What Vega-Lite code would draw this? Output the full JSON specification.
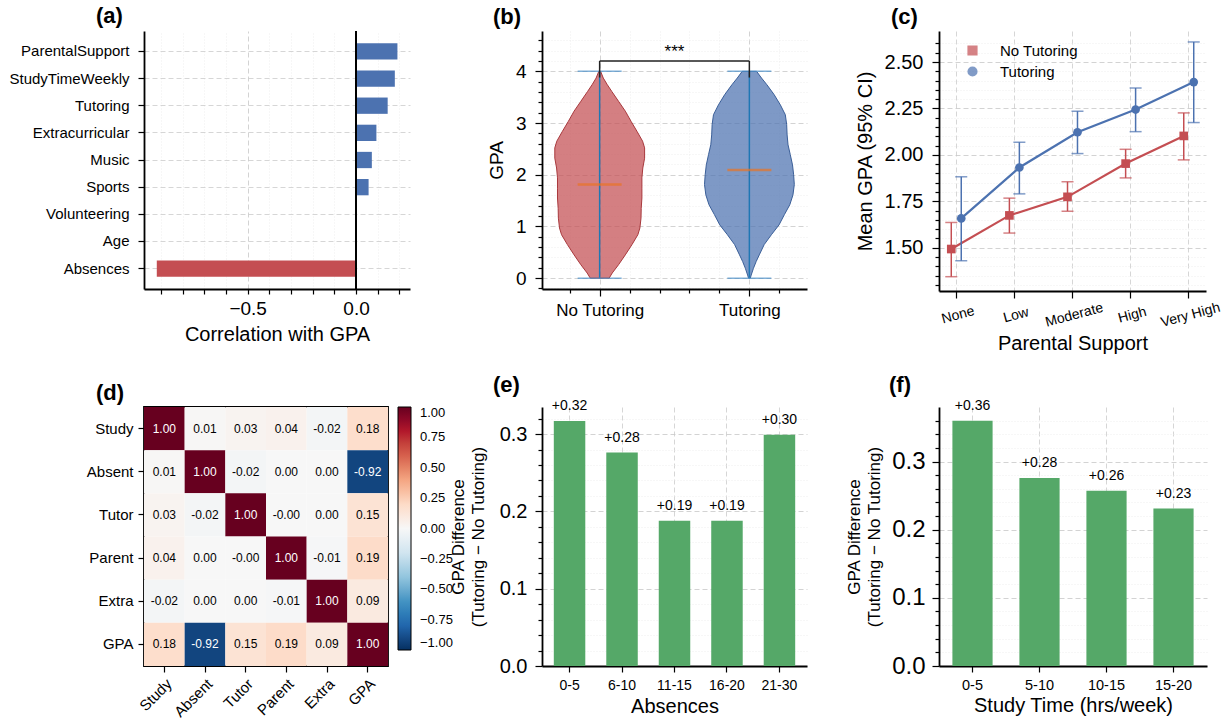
{
  "$schema": "https://vega.github.io/schema/vega-lite/v6.json",
  "background": "white",
  "padding": {"left": 8, "top": 5, "right": 5, "bottom": 5},
  "bounds": "flush",
  "columns": 3,
  "align": "each",
  "spacing": {"row": 116, "column": 132},
  "resolve": {"scale": {"color": "independent", "shape": "independent"}, "legend": {"color": "independent", "shape": "independent"}},
  "concat": [
    {
      "width": 266, "height": 258,
      "title": {"text": "(a)", "dx": -48, "offset": 2},
      "data": {"values": [
        {"feature": "ParentalSupport", "corr": 0.191},
        {"feature": "StudyTimeWeekly", "corr": 0.179},
        {"feature": "Tutoring", "corr": 0.146},
        {"feature": "Extracurricular", "corr": 0.094},
        {"feature": "Music", "corr": 0.073},
        {"feature": "Sports", "corr": 0.058},
        {"feature": "Volunteering", "corr": 0.003},
        {"feature": "Age", "corr": -0.001},
        {"feature": "Absences", "corr": -0.919}
      ]},
      "layer": [
        {
          "mark": {"type": "bar"},
          "encoding": {
            "y": {"field": "feature", "type": "nominal", "sort": null,
              "scale": {"paddingInner": 0.4, "paddingOuter": 0.45},
              "axis": {"title": null, "labelFontSize": 15, "tickSize": 6, "labelPadding": 9, "grid": true, "gridDash": [5, 3], "gridColor": "#cccccc"}},
            "x": {"field": "corr", "type": "quantitative",
              "scale": {"domain": [-0.978, 0.249], "nice": false},
              "axis": {"title": "Correlation with GPA", "titleFontSize": 20, "labelFontSize": 19, "format": ".1f", "labelOverlap": false, "tickCount": 100,
                "values": [-0.9, -0.8, -0.7, -0.6, -0.5, -0.4, -0.3, -0.2, -0.1, 0, 0.1, 0.2],
                "labelExpr": "abs(datum.value*2 - round(datum.value*2)) < 0.001 ? datum.label : ''",
                "labelPadding": 5, "titlePadding": 6, "grid": true,
                "tickSize": 5,
                "gridDash": {"condition": {"test": "abs(datum.value*2 - round(datum.value*2)) < 0.001", "value": [5, 3]}, "value": [1, 2]},
                "gridColor": {"condition": {"test": "abs(datum.value*2 - round(datum.value*2)) < 0.001", "value": "#c8c8c8"}, "value": "#ebebeb"}}},
            "color": {"condition": {"test": "datum.corr < 0", "value": "#c44e52"}, "value": "#4c72b0"}
          }
        },
        {"mark": {"type": "rule", "color": "black", "strokeWidth": 1.2}, "encoding": {"x": {"datum": 0}}}
      ]
    },
    {
      "width": 265, "height": 258,
      "title": {"text": "(b)", "dx": -49, "offset": 2},
      "data": {"values": [
        {"group": "No Tutoring", "gpa": 0.0, "density": 0.21},
        {"group": "No Tutoring", "gpa": 0.1, "density": 0.28},
        {"group": "No Tutoring", "gpa": 0.26, "density": 0.42},
        {"group": "No Tutoring", "gpa": 0.45, "density": 0.57},
        {"group": "No Tutoring", "gpa": 0.65, "density": 0.72},
        {"group": "No Tutoring", "gpa": 0.84, "density": 0.85},
        {"group": "No Tutoring", "gpa": 0.97, "density": 0.895},
        {"group": "No Tutoring", "gpa": 1.16, "density": 0.92},
        {"group": "No Tutoring", "gpa": 1.35, "density": 0.925},
        {"group": "No Tutoring", "gpa": 1.55, "density": 0.94},
        {"group": "No Tutoring", "gpa": 1.74, "density": 0.94},
        {"group": "No Tutoring", "gpa": 1.94, "density": 0.94},
        {"group": "No Tutoring", "gpa": 2.13, "density": 0.96},
        {"group": "No Tutoring", "gpa": 2.32, "density": 1.0},
        {"group": "No Tutoring", "gpa": 2.52, "density": 1.0},
        {"group": "No Tutoring", "gpa": 2.65, "density": 0.955},
        {"group": "No Tutoring", "gpa": 2.84, "density": 0.83},
        {"group": "No Tutoring", "gpa": 3.03, "density": 0.7},
        {"group": "No Tutoring", "gpa": 3.23, "density": 0.57},
        {"group": "No Tutoring", "gpa": 3.42, "density": 0.42},
        {"group": "No Tutoring", "gpa": 3.61, "density": 0.27},
        {"group": "No Tutoring", "gpa": 3.74, "density": 0.17},
        {"group": "No Tutoring", "gpa": 3.87, "density": 0.08},
        {"group": "No Tutoring", "gpa": 4.0, "density": 0.02},
        {"group": "Tutoring", "gpa": 0.0, "density": 0.02},
        {"group": "Tutoring", "gpa": 0.06, "density": 0.04},
        {"group": "Tutoring", "gpa": 0.19, "density": 0.09},
        {"group": "Tutoring", "gpa": 0.32, "density": 0.15},
        {"group": "Tutoring", "gpa": 0.45, "density": 0.22},
        {"group": "Tutoring", "gpa": 0.65, "density": 0.33},
        {"group": "Tutoring", "gpa": 0.84, "density": 0.49},
        {"group": "Tutoring", "gpa": 1.03, "density": 0.66},
        {"group": "Tutoring", "gpa": 1.23, "density": 0.78},
        {"group": "Tutoring", "gpa": 1.42, "density": 0.9},
        {"group": "Tutoring", "gpa": 1.61, "density": 0.97},
        {"group": "Tutoring", "gpa": 1.81, "density": 1.0},
        {"group": "Tutoring", "gpa": 2.0, "density": 0.985},
        {"group": "Tutoring", "gpa": 2.19, "density": 0.96},
        {"group": "Tutoring", "gpa": 2.39, "density": 0.91},
        {"group": "Tutoring", "gpa": 2.58, "density": 0.86},
        {"group": "Tutoring", "gpa": 2.77, "density": 0.84},
        {"group": "Tutoring", "gpa": 2.97, "density": 0.83},
        {"group": "Tutoring", "gpa": 3.16, "density": 0.8},
        {"group": "Tutoring", "gpa": 3.35, "density": 0.69},
        {"group": "Tutoring", "gpa": 3.55, "density": 0.55},
        {"group": "Tutoring", "gpa": 3.74, "density": 0.39},
        {"group": "Tutoring", "gpa": 3.87, "density": 0.27},
        {"group": "Tutoring", "gpa": 4.0, "density": 0.16}
      ]},
      "resolve": {"scale": {"x": "independent"}, "axis": {"x": "independent"}},
      "layer": [
        {
          "transform": [{"filter": "datum.group == 'No Tutoring'"}],
          "mark": {"type": "area", "orient": "horizontal", "fill": "#c44e52", "fillOpacity": 0.72, "stroke": "#a8393d", "strokeWidth": 1},
          "encoding": {
            "y": {"field": "gpa", "type": "quantitative", "title": "GPA", "scale": {"domain": [-0.21, 4.78], "nice": false, "zero": false}},
            "x": {"field": "density", "type": "quantitative", "stack": "center", "scale": {"domain": [-0.1425, 2.8085], "nice": false, "zero": false}, "axis": null}
          }
        },
        {
          "transform": [{"filter": "datum.group == 'Tutoring'"}],
          "mark": {"type": "area", "orient": "horizontal", "fill": "#4c72b0", "fillOpacity": 0.72, "stroke": "#3b5f98", "strokeWidth": 1},
          "encoding": {
            "y": {"field": "gpa", "type": "quantitative", "title": "GPA", "scale": {"domain": [-0.21, 4.78], "nice": false, "zero": false}},
            "x": {"field": "density", "type": "quantitative", "stack": "center", "scale": {"domain": [-1.8096, 1.1414], "nice": false, "zero": false}, "axis": null}
          }
        },
        {
          "data": {"values": [
            {"group": "No Tutoring", "pos": 1, "min": 0, "max": 4, "median": 1.81},
            {"group": "Tutoring", "pos": 2, "min": 0, "max": 4, "median": 2.09}
          ]},
          "layer": [
            {
              "mark": {"type": "rule", "color": "#1f77b4", "strokeWidth": 1.5},
              "encoding": {
                "x": {"field": "pos", "type": "quantitative", "scale": {"domain": [0.615, 2.385], "nice": false, "zero": false},
                  "axis": {"title": null, "labelFontSize": 17, "values": [0.8, 1, 1.2, 1.4, 1.6, 1.8, 2, 2.2], "labelOverlap": false, "labelFlush": false, "tickCount": 100,
                    "labelExpr": "datum.value == 1 ? 'No Tutoring' : (datum.value == 2 ? 'Tutoring' : '')",
                    "labelPadding": 6, "grid": true,
                    "tickSize": {"condition": {"test": "abs(datum.value - round(datum.value)) < 0.001", "value": 7}, "value": 4},
                    "gridDash": {"condition": {"test": "abs(datum.value - round(datum.value)) < 0.001", "value": [5, 3]}, "value": [1, 2]},
                    "gridColor": {"condition": {"test": "abs(datum.value - round(datum.value)) < 0.001", "value": "#c8c8c8"}, "value": "#ebebeb"}}},
                "y": {"field": "min", "type": "quantitative", "title": "GPA", "scale": {"domain": [-0.21, 4.78], "nice": false, "zero": false},
                  "axis": {"titleFontSize": 19, "labelFontSize": 19, "titlePadding": 9, "labelPadding": 9, "labelOverlap": false, "tickCount": 100,
                    "values": [-0.2, 0, 0.2, 0.4, 0.6, 0.8, 1, 1.2, 1.4, 1.6, 1.8, 2, 2.2, 2.4, 2.6, 2.8, 3, 3.2, 3.4, 3.6, 3.8, 4, 4.2, 4.4, 4.6],
                    "labelExpr": "abs(datum.value - round(datum.value)) < 0.001 ? format(datum.value, '.0f') : ''",
                    "grid": true,
                    "tickSize": {"condition": {"test": "abs(datum.value - round(datum.value)) < 0.001", "value": 7}, "value": 4},
                    "gridDash": {"condition": {"test": "abs(datum.value - round(datum.value)) < 0.001", "value": [5, 3]}, "value": [1, 2]},
                    "gridColor": {"condition": {"test": "abs(datum.value - round(datum.value)) < 0.001", "value": "#c8c8c8"}, "value": "#ebebeb"}}},
                "y2": {"field": "max"}
              }
            },
            {
              "mark": {"type": "tick", "orient": "horizontal", "size": 44, "thickness": 1.5, "color": "#4a8fc7"},
              "encoding": {
                "x": {"field": "pos", "type": "quantitative"},
                "y": {"field": "min", "type": "quantitative", "title": "GPA"}
              }
            },
            {
              "mark": {"type": "tick", "orient": "horizontal", "size": 44, "thickness": 1.5, "color": "#4a8fc7"},
              "encoding": {
                "x": {"field": "pos", "type": "quantitative"},
                "y": {"field": "max", "type": "quantitative", "title": "GPA"}
              }
            },
            {
              "mark": {"type": "tick", "orient": "horizontal", "size": 44, "thickness": 2.5, "color": "#ea7424"},
              "encoding": {
                "x": {"field": "pos", "type": "quantitative"},
                "y": {"field": "median", "type": "quantitative", "title": "GPA"}
              }
            },
            {
              "data": {"values": [{"label": "***"}]},
              "layer": [
                {"mark": {"type": "rule", "color": "#222222", "strokeWidth": 1.5},
                 "encoding": {"x": {"datum": 1}, "x2": {"datum": 2}, "y": {"datum": 4.2}}},
                {"mark": {"type": "rule", "color": "#222222", "strokeWidth": 1.5},
                 "encoding": {"x": {"datum": 1}, "y": {"datum": 3.88}, "y2": {"datum": 4.2}}},
                {"mark": {"type": "rule", "color": "#222222", "strokeWidth": 1.5},
                 "encoding": {"x": {"datum": 2}, "y": {"datum": 3.88}, "y2": {"datum": 4.2}}},
                {"mark": {"type": "text", "fontSize": 17, "baseline": "alphabetic", "color": "black"},
                 "encoding": {"x": {"datum": 1.5}, "y": {"datum": 4.27}, "text": {"field": "label"}}}
              ]
            }
          ]
        }
      ]
    },
    {
      "width": 267, "height": 260,
      "title": {"text": "(c)", "dx": -48, "offset": 2},
      "data": {"values": [
        {"support": "None", "group": "No Tutoring", "mean": 1.493, "lo": 1.344, "hi": 1.636},
        {"support": "Low", "group": "No Tutoring", "mean": 1.674, "lo": 1.579, "hi": 1.767},
        {"support": "Moderate", "group": "No Tutoring", "mean": 1.774, "lo": 1.697, "hi": 1.855},
        {"support": "High", "group": "No Tutoring", "mean": 1.953, "lo": 1.876, "hi": 2.03},
        {"support": "Very High", "group": "No Tutoring", "mean": 2.102, "lo": 1.973, "hi": 2.226},
        {"support": "None", "group": "Tutoring", "mean": 1.658, "lo": 1.43, "hi": 1.882},
        {"support": "Low", "group": "Tutoring", "mean": 1.932, "lo": 1.79, "hi": 2.068},
        {"support": "Moderate", "group": "Tutoring", "mean": 2.122, "lo": 2.007, "hi": 2.235},
        {"support": "High", "group": "Tutoring", "mean": 2.244, "lo": 2.125, "hi": 2.36},
        {"support": "Very High", "group": "Tutoring", "mean": 2.392, "lo": 2.174, "hi": 2.608}
      ]},
      "encoding": {
        "x": {"field": "support", "type": "ordinal", "sort": ["None", "Low", "Moderate", "High", "Very High"],
          "scale": {"paddingInner": 0.406, "paddingOuter": 0},
          "axis": {"title": "Parental Support", "titleFontSize": 20, "labelFontSize": 14, "labelAngle": -15, "labelAlign": "center", "labelBaseline": "top", "tickSize": 7, "labelPadding": 10, "titlePadding": 4, "grid": true, "labelOverlap": false}},
        "xOffset": {"field": "group", "type": "nominal", "sort": ["No Tutoring", "Tutoring"], "scale": {"paddingInner": 0, "paddingOuter": 0.73}},
        "color": {"field": "group", "type": "nominal", "scale": {"domain": ["No Tutoring", "Tutoring"], "range": ["#c44e52", "#4c72b0"]},
          "legend": {"title": null, "orient": "none", "legendX": 26, "legendY": 12, "labelFontSize": 15, "symbolSize": 75, "rowPadding": 5, "labelOffset": 20, "padding": 0}}
      },
      "layer": [
        {
          "mark": {"type": "line", "strokeWidth": 2.2},
          "encoding": {
            "y": {"field": "mean", "type": "quantitative", "title": "Mean GPA (95% CI)", "scale": {"domain": [1.267, 2.667], "nice": false, "zero": false},
              "axis": {"titleFontSize": 20, "labelFontSize": 20, "titlePadding": 9, "labelPadding": 9, "format": ".2f", "labelOverlap": false, "tickCount": 100,
                "values": [1.3, 1.35, 1.4, 1.45, 1.5, 1.55, 1.6, 1.65, 1.7, 1.75, 1.8, 1.85, 1.9, 1.95, 2, 2.05, 2.1, 2.15, 2.2, 2.25, 2.3, 2.35, 2.4, 2.45, 2.5, 2.55, 2.6],
                "labelExpr": "abs(datum.value*4 - round(datum.value*4)) < 0.001 ? datum.label : ''",
                "grid": true,
                "tickSize": {"condition": {"test": "abs(datum.value*4 - round(datum.value*4)) < 0.001", "value": 7}, "value": 4},
                "gridDash": {"condition": {"test": "abs(datum.value*4 - round(datum.value*4)) < 0.001", "value": [5, 3]}, "value": [1, 2]},
                "gridColor": {"condition": {"test": "abs(datum.value*4 - round(datum.value*4)) < 0.001", "value": "#c8c8c8"}, "value": "#ebebeb"}}}
          }
        },
        {
          "mark": {"type": "rule", "strokeWidth": 1.5},
          "encoding": {
            "y": {"field": "lo", "type": "quantitative", "title": "Mean GPA (95% CI)", "scale": {"domain": [1.267, 2.667], "nice": false, "zero": false}},
            "y2": {"field": "hi"}
          }
        },
        {
          "mark": {"type": "tick", "orient": "horizontal", "size": 12, "thickness": 1.5},
          "encoding": {"y": {"field": "lo", "type": "quantitative", "title": "Mean GPA (95% CI)", "scale": {"domain": [1.267, 2.667], "nice": false, "zero": false}}}
        },
        {
          "mark": {"type": "tick", "orient": "horizontal", "size": 12, "thickness": 1.5},
          "encoding": {"y": {"field": "hi", "type": "quantitative", "title": "Mean GPA (95% CI)", "scale": {"domain": [1.267, 2.667], "nice": false, "zero": false}}}
        },
        {
          "mark": {"type": "point", "filled": true, "size": 75, "opacity": 1},
          "encoding": {
            "y": {"field": "mean", "type": "quantitative", "title": "Mean GPA (95% CI)", "scale": {"domain": [1.267, 2.667], "nice": false, "zero": false}},
            "shape": {"field": "group", "type": "nominal", "scale": {"domain": ["No Tutoring", "Tutoring"], "range": ["square", "circle"]}, "legend": null}
          }
        }
      ]
    },
    {
      "width": 244, "height": 259,
      "title": {"text": "(d)", "dx": -48, "offset": 2},
      "view": {"stroke": "black", "strokeWidth": 1.8},
      "data": {"values": [
        {"row": "Study", "col": "Study", "r": 1.0}, {"row": "Study", "col": "Absent", "r": 0.01}, {"row": "Study", "col": "Tutor", "r": 0.03}, {"row": "Study", "col": "Parent", "r": 0.04}, {"row": "Study", "col": "Extra", "r": -0.02}, {"row": "Study", "col": "GPA", "r": 0.179},
        {"row": "Absent", "col": "Study", "r": 0.01}, {"row": "Absent", "col": "Absent", "r": 1.0}, {"row": "Absent", "col": "Tutor", "r": -0.02}, {"row": "Absent", "col": "Parent", "r": 0.002}, {"row": "Absent", "col": "Extra", "r": 0.001}, {"row": "Absent", "col": "GPA", "r": -0.919},
        {"row": "Tutor", "col": "Study", "r": 0.03}, {"row": "Tutor", "col": "Absent", "r": -0.02}, {"row": "Tutor", "col": "Tutor", "r": 1.0}, {"row": "Tutor", "col": "Parent", "r": -0.002}, {"row": "Tutor", "col": "Extra", "r": 0.002}, {"row": "Tutor", "col": "GPA", "r": 0.146},
        {"row": "Parent", "col": "Study", "r": 0.04}, {"row": "Parent", "col": "Absent", "r": 0.002}, {"row": "Parent", "col": "Tutor", "r": -0.002}, {"row": "Parent", "col": "Parent", "r": 1.0}, {"row": "Parent", "col": "Extra", "r": -0.01}, {"row": "Parent", "col": "GPA", "r": 0.191},
        {"row": "Extra", "col": "Study", "r": -0.02}, {"row": "Extra", "col": "Absent", "r": 0.001}, {"row": "Extra", "col": "Tutor", "r": 0.002}, {"row": "Extra", "col": "Parent", "r": -0.01}, {"row": "Extra", "col": "Extra", "r": 1.0}, {"row": "Extra", "col": "GPA", "r": 0.094},
        {"row": "GPA", "col": "Study", "r": 0.179}, {"row": "GPA", "col": "Absent", "r": -0.919}, {"row": "GPA", "col": "Tutor", "r": 0.146}, {"row": "GPA", "col": "Parent", "r": 0.191}, {"row": "GPA", "col": "Extra", "r": 0.094}, {"row": "GPA", "col": "GPA", "r": 1.0}
      ]},
      "encoding": {
        "x": {"field": "col", "type": "nominal", "sort": ["Study", "Absent", "Tutor", "Parent", "Extra", "GPA"],
          "scale": {"paddingInner": 0, "paddingOuter": 0},
          "axis": {"title": null, "labelAngle": -45, "labelAlign": "right", "labelBaseline": "top", "labelFontSize": 15, "tickSize": 6, "labelPadding": 4, "domain": false}},
        "y": {"field": "row", "type": "nominal", "sort": ["Study", "Absent", "Tutor", "Parent", "Extra", "GPA"],
          "scale": {"paddingInner": 0, "paddingOuter": 0},
          "axis": {"title": null, "labelFontSize": 15, "tickSize": 6, "labelPadding": 5, "domain": false}}
      },
      "layer": [
        {
          "mark": {"type": "rect"},
          "encoding": {
            "color": {"field": "r", "type": "quantitative",
              "scale": {"domain": [-1, -0.8, -0.6, -0.4, -0.2, 0, 0.2, 0.4, 0.6, 0.8, 1],
                "range": ["#053061", "#2166ac", "#4393c3", "#92c5de", "#d1e5f0", "#f7f7f7", "#fddbc7", "#f4a582", "#d6604d", "#b2182b", "#67001f"]},
              "legend": {"title": null, "orient": "right", "direction": "vertical", "gradientLength": 243, "gradientThickness": 13,
                "values": [-1, -0.75, -0.5, -0.25, 0, 0.25, 0.5, 0.75, 1], "format": ".2f", "labelFontSize": 13, "labelColor": "black",
                "gradientStrokeColor": "black", "gradientStrokeWidth": 1, "offset": 10, "labelOffset": 9, "padding": 0}}
          }
        },
        {
          "mark": {"type": "text", "fontSize": 12, "text": {"expr": "(datum.r < 0 ? '-' : '') + format(abs(datum.r), '.2f')"}},
          "encoding": {
            "color": {"condition": {"test": "abs(datum.r) > 0.5", "value": "white"}, "value": "black"}
          }
        }
      ]
    },
    {
      "width": 265, "height": 259,
      "title": {"text": "(e)", "dx": -49, "offset": 2},
      "data": {"values": [
        {"absences": "0-5", "diff": 0.317},
        {"absences": "6-10", "diff": 0.276},
        {"absences": "11-15", "diff": 0.188},
        {"absences": "16-20", "diff": 0.188},
        {"absences": "21-30", "diff": 0.299}
      ]},
      "encoding": {
        "x": {"field": "absences", "type": "ordinal", "sort": null, "scale": {"paddingInner": 0.4, "paddingOuter": 0.225},
          "axis": {"title": "Absences", "titleFontSize": 20, "labelFontSize": 14, "labelAngle": 0, "tickSize": 6, "labelPadding": 6, "titlePadding": 4, "grid": true}},
        "y": {"field": "diff", "type": "quantitative", "scale": {"domain": [0, 0.335], "nice": false},
          "axis": {"title": ["GPA Difference", "(Tutoring − No Tutoring)"], "titleFontSize": 17, "titleLineHeight": 20, "labelFontSize": 20, "titlePadding": 12, "labelPadding": 8, "labelOverlap": false, "tickCount": 100,
            "values": [0, 0.02, 0.04, 0.06, 0.08, 0.1, 0.12, 0.14, 0.16, 0.18, 0.2, 0.22, 0.24, 0.26, 0.28, 0.3, 0.32],
            "format": ".1f",
            "labelExpr": "abs(datum.value*10 - round(datum.value*10)) < 0.001 ? datum.label : ''",
            "grid": true,
            "tickSize": {"condition": {"test": "abs(datum.value*10 - round(datum.value*10)) < 0.001", "value": 7}, "value": 4},
            "gridDash": {"condition": {"test": "abs(datum.value*10 - round(datum.value*10)) < 0.001", "value": [5, 3]}, "value": [1, 2]},
            "gridColor": {"condition": {"test": "abs(datum.value*10 - round(datum.value*10)) < 0.001", "value": "#c8c8c8"}, "value": "#ebebeb"}}}
      },
      "layer": [
        {"mark": {"type": "bar", "color": "#55a868"}},
        {"mark": {"type": "text", "baseline": "bottom", "dy": -8, "fontSize": 14, "color": "black"},
         "encoding": {"text": {"field": "diff", "format": "+.2f"}}}
      ]
    },
    {
      "width": 268, "height": 259,
      "title": {"text": "(f)", "dx": -50, "offset": 2},
      "data": {"values": [
        {"study": "0-5", "diff": 0.36},
        {"study": "5-10", "diff": 0.276},
        {"study": "10-15", "diff": 0.257},
        {"study": "15-20", "diff": 0.231}
      ]},
      "encoding": {
        "x": {"field": "study", "type": "ordinal", "sort": null, "scale": {"paddingInner": 0.4, "paddingOuter": 0.2},
          "axis": {"title": "Study Time (hrs/week)", "titleFontSize": 20, "labelFontSize": 14.5, "labelAngle": 0, "tickSize": 6, "labelPadding": 6, "titlePadding": 4, "grid": true}},
        "y": {"field": "diff", "type": "quantitative", "scale": {"domain": [0, 0.38], "nice": false},
          "axis": {"title": ["GPA Difference", "(Tutoring − No Tutoring)"], "titleFontSize": 17, "titleLineHeight": 20, "labelFontSize": 24, "titlePadding": 8, "labelPadding": 7, "labelOverlap": false, "tickCount": 100,
            "values": [0, 0.02, 0.04, 0.06, 0.08, 0.1, 0.12, 0.14, 0.16, 0.18, 0.2, 0.22, 0.24, 0.26, 0.28, 0.3, 0.32, 0.34, 0.36],
            "format": ".1f",
            "labelExpr": "abs(datum.value*10 - round(datum.value*10)) < 0.001 ? datum.label : ''",
            "grid": true,
            "tickSize": {"condition": {"test": "abs(datum.value*10 - round(datum.value*10)) < 0.001", "value": 7}, "value": 4},
            "gridDash": {"condition": {"test": "abs(datum.value*10 - round(datum.value*10)) < 0.001", "value": [5, 3]}, "value": [1, 2]},
            "gridColor": {"condition": {"test": "abs(datum.value*10 - round(datum.value*10)) < 0.001", "value": "#c8c8c8"}, "value": "#ebebeb"}}}
      },
      "layer": [
        {"mark": {"type": "bar", "color": "#55a868"}},
        {"mark": {"type": "text", "baseline": "bottom", "dy": -8, "fontSize": 14, "color": "black"},
         "encoding": {"text": {"field": "diff", "format": "+.2f"}}}
      ]
    }
  ],
  "config": {
    "font": "Liberation Sans",
    "view": {"stroke": null},
    "axis": {"domainColor": "black", "domainWidth": 1.8, "tickColor": "black", "tickWidth": 1.2, "labelColor": "black", "titleColor": "black", "labelOverlap": false,
      "titleFontWeight": "normal", "gridColor": "#cccccc", "gridWidth": 0.8, "gridDash": [5, 3], "labelFont": "Liberation Sans", "titleFont": "Liberation Sans", "zindex": 1},
    "title": {"fontSize": 22, "fontWeight": "bold", "anchor": "start", "frame": "group", "color": "black", "font": "Liberation Sans"},
    "legend": {"labelFont": "Liberation Sans", "labelColor": "black"}
  }
}
